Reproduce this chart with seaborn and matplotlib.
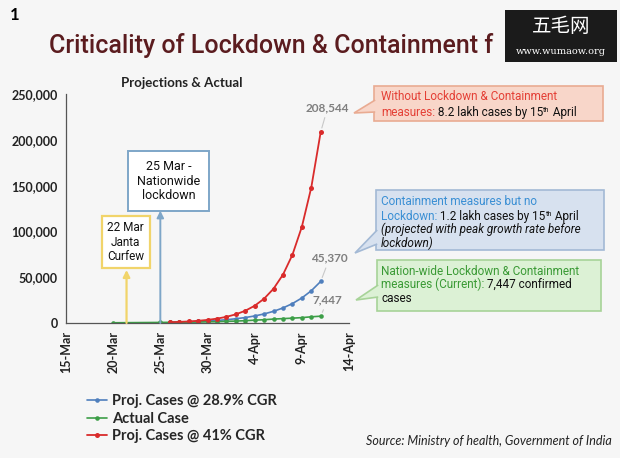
import matplotlib
matplotlib.use("Agg")
import matplotlib.pyplot as plt
import matplotlib.dates as mdates
from matplotlib.patches import Rectangle, Polygon
import seaborn as sns
import pandas as pd

# values
proj_dates = pd.date_range("2020-03-26", "2020-04-11")
proj_41 = [854, 1205, 1699, 2395, 3377, 4762, 6714, 9467, 13349, 18822,
           26539, 37420, 52762, 74394, 104896, 147903, 208544]
proj_289 = [781, 1007, 1298, 1673, 2156, 2779, 3583, 4618, 5953, 7673,
            9891, 12750, 16434, 21184, 27306, 35198, 45370]
actual_dates = pd.to_datetime(["2020-03-20", "2020-03-25"]).append(pd.date_range("2020-03-26", "2020-04-11"))
actual = [250, 606, 727, 887, 987, 1024, 1251, 1397, 1834, 2069, 2547,
          3072, 3577, 4281, 4789, 5274, 5865, 6761, 7447]
tick_dates = pd.date_range("2020-03-15", "2020-04-14", freq="5D")
tick_labels = ["15-Mar", "20-Mar", "25-Mar", "30-Mar", "4-Apr", "9-Apr", "14-Apr"]
y_ticks = [0, 50000, 100000, 150000, 200000, 250000]

W, H = 620, 458
BG = "#f6f6f6"
RED, BLUE, GREEN = "#d92b2b", "#4f7fbd", "#3c9e47"

sns.set_theme(style="white")
plt.rcParams["font.family"] = ["Lato", "DejaVu Sans"]

def fx(px):
    return px / W

def fy(py):
    return 1 - py / H

def dnum(s):
    return mdates.date2num(pd.Timestamp(s).to_pydatetime())

fig = plt.figure(figsize=(6.2, 4.58), dpi=100, facecolor=BG)
ax = fig.add_axes([fx(66), fy(323), fx(349 - 66), (323 - 94) / H])
ax.set_facecolor(BG)

sns.lineplot(x=mdates.date2num(proj_dates.to_pydatetime()), y=proj_289, ax=ax, color=BLUE,
             marker="o", markersize=3.3, markeredgewidth=0, lw=1.2,
             label="Proj. Cases @ 28.9% CGR")
sns.lineplot(x=mdates.date2num(actual_dates.to_pydatetime()), y=actual, ax=ax, color=GREEN,
             marker="o", markersize=3.3, markeredgewidth=0, lw=1.2, label="Actual Case")
sns.lineplot(x=mdates.date2num(proj_dates.to_pydatetime()), y=proj_41, ax=ax, color=RED,
             marker="o", markersize=3.6, markeredgewidth=0, lw=1.3,
             label="Proj. Cases @ 41% CGR")

ax.set_xlim(dnum("2020-03-15"), dnum("2020-04-14"))
ax.set_ylim(0, 250000)
ax.set_xticks(mdates.date2num(tick_dates.to_pydatetime()))
ax.set_xticklabels(tick_labels, rotation=90, fontweight="bold", fontsize=9, color="#222222")
ax.set_yticks(y_ticks)
ax.set_yticklabels([f"{v:,}" for v in y_ticks], fontweight="bold", fontsize=9, color="#222222")
ax.set_xlabel("")
ax.set_ylabel("")
ax.tick_params(length=0, pad=6)
sns.despine(ax=ax)
for s in ["left", "bottom"]:
    ax.spines[s].set_color("#555555")
    ax.spines[s].set_linewidth(0.9)

# event arrows and boxes
ax.annotate("", xy=(dnum("2020-03-21 10:00"), 57900), xytext=(dnum("2020-03-21 10:00"), 0),
            arrowprops=dict(arrowstyle="-|>", color="#f1d46a", lw=1.6, shrinkA=0, shrinkB=0,
                            mutation_scale=10))
ax.annotate("", xy=(dnum("2020-03-25"), 122600), xytext=(dnum("2020-03-25"), 0),
            arrowprops=dict(arrowstyle="-|>", color="#7ea6c8", lw=1.4, shrinkA=0, shrinkB=0,
                            mutation_scale=10))
ax.text(dnum("2020-03-21 08:00"), 88400, "22 Mar\nJanta\nCurfew", ha="center", va="center",
        fontsize=8.5, family="Roboto", linespacing=1.15, color="#111111",
        bbox=dict(boxstyle="square,pad=0.45", fc="white", ec="#f1d46a", lw=1.6))
ax.text(dnum("2020-03-25 21:00"), 155000, "25 Mar -\nNationwide\nlockdown", ha="center",
        va="center", fontsize=9, family="Roboto", linespacing=1.15, color="#111111",
        bbox=dict(boxstyle="square,pad=0.7", fc="white", ec="#7ea6c8", lw=1.4))

# end-point labels
last = dnum("2020-04-11")
for val, off in [(208544, (7, 19)), (45370, (9, 18)), (7447, (7, 11))]:
    ax.annotate(f"{val:,}", xy=(last, val), xytext=off, textcoords="offset pixels",
                ha="center", va="bottom", fontsize=8.5, fontweight="bold", color="#7f7f7f",
                arrowprops=dict(arrowstyle="-", color="#c8c8c8", lw=0.8, shrinkA=1, shrinkB=3))

# headings
fig.text(fx(10), fy(15), "1", fontsize=12, fontweight="bold", color="black", va="center")
fig.text(fx(49), fy(45), "Criticality of Lockdown & Containment f", fontsize=18,
         family="Roboto", fontweight="medium", color="#5b1c1f", va="center")
fig.text(fx(182), fy(83), "Projections & Actual", fontsize=9.5, fontweight="bold",
         color="#222222", ha="center", va="center")

# watermark
fig.patches.append(Rectangle((fx(505), fy(62)), fx(112), 52 / H, transform=fig.transFigure,
                             fc="#1b1b1b", ec="none", zorder=5))
fig.text(fx(561), fy(27), "五毛网", fontsize=14, color="white", ha="center", va="center",
         family=["Noto Sans CJK SC"], zorder=6)
fig.text(fx(561), fy(51), "www.wumaow.org", fontsize=7, color="white", ha="center",
         va="center", family="DejaVu Serif", zorder=6)


def callout(box, tip, base, fc, ec):
    x0, y0, x1, y1 = box
    fig.patches.append(Rectangle((fx(x0), fy(y1)), fx(x1 - x0), (y1 - y0) / H,
                                 transform=fig.transFigure, fc=fc, ec=ec, lw=1.2, zorder=2))
    pts = [(fx(x0 + 1.2), fy(base[0])), (fx(tip[0]), fy(tip[1])), (fx(x0 + 1.2), fy(base[1]))]
    fig.patches.append(Polygon(pts, closed=False, transform=fig.transFigure, fc=fc, ec=ec,
                               lw=1.2, zorder=3))


renderer = fig.canvas.get_renderer()


def line(x, y, parts, size=8.5):
    # y is the baseline; parts are placed one after the other, "sup" is raised and small
    for text, color, style in parts:
        if style == "sup":
            t = fig.text(fx(x), fy(y - 4.5), text, color=color, fontsize=size * 0.62,
                         family="Roboto", va="baseline", zorder=4)
        else:
            t = fig.text(fx(x), fy(y), text, color=color, style=style, fontsize=size,
                         family="Roboto", va="baseline", zorder=4)
        x = t.get_window_extent(renderer).x1


K = "#111111"
RT, BT, GT = "#e43f35", "#3a8fd4", "#3a9a35"
callout((374, 86, 603, 121), (354, 113), (100, 112), "#f8d6c9", "#e9ab92")
line(381, 100, [("Without Lockdown & Containment", RT, "normal")])
line(381, 116, [("measures:", RT, "normal"), (" 8.2 lakh cases by 15", K, "normal"),
                ("th", K, "sup"), (" April", K, "normal")])

callout((376, 190, 604, 250), (355, 253), (230, 244), "#d7e1ef", "#a3b9d5")
line(381, 205, [("Containment measures but no", BT, "normal")])
line(381, 220, [("Lockdown:", BT, "normal"), (" 1.2 lakh cases by 15", K, "normal"),
                ("th", K, "sup"), (" April", K, "normal")])
line(381, 233, [("(projected with peak growth rate before", K, "italic")])
line(381, 247, [("lockdown)", K, "italic")])

callout((377, 260, 601, 311), (356, 300), (285, 297), "#dcf1d5", "#a7d398")
line(381, 275, [("Nation-wide Lockdown & Containment", GT, "normal")])
line(381, 288, [("measures (Current):", GT, "normal"), (" 7,447 confirmed", K, "normal")])
line(381, 302, [("cases", K, "normal")])

# legend and source
ax.legend(loc="upper left", bbox_to_anchor=(fx(87), fy(394)), bbox_transform=fig.transFigure,
          frameon=False, prop=dict(weight="bold", size=10.5), handlelength=1.4,
          handletextpad=0.3, labelspacing=0.25, borderaxespad=0, borderpad=0)
fig.text(fx(612), fy(441), "Source: Ministry of health, Government of India", ha="right",
         va="center", style="italic", fontsize=9, color="#222222")

fig.savefig("out.png", dpi=100, facecolor=BG)
